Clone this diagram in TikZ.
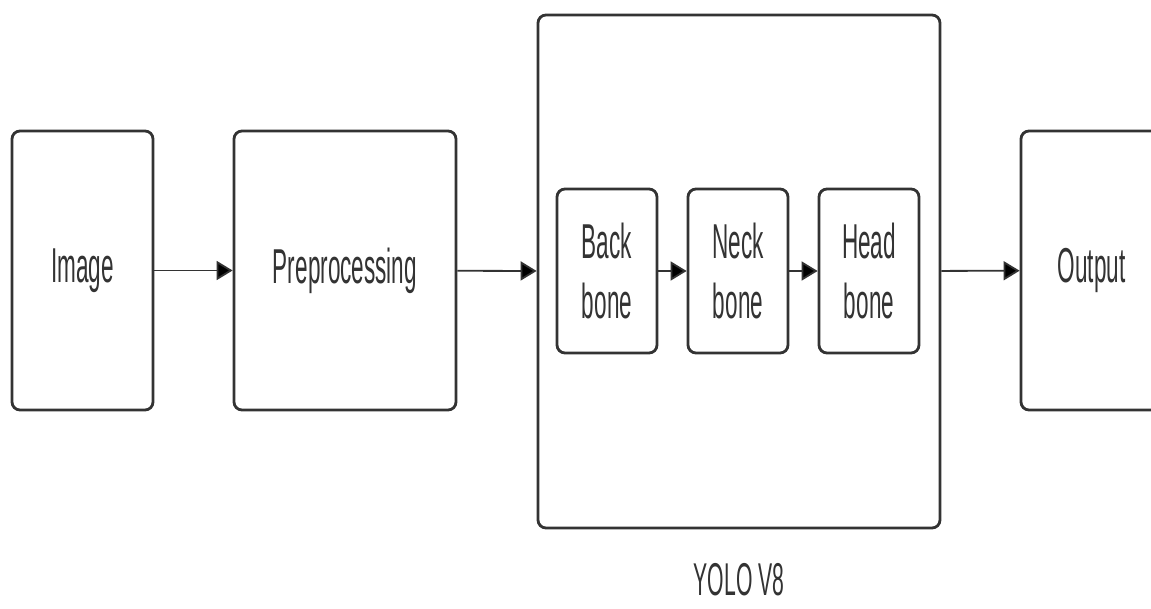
\documentclass[tikz,border=0pt]{standalone}
\usepackage{fontspec}
\setmainfont{Liberation Sans}
\usepackage{graphicx}
\usetikzlibrary{arrows.meta}
\definecolor{ink}{HTML}{333333}
\newcommand{\squeeze}[1]{\scalebox{0.46}[1]{#1}}
\begin{document}
\begin{tikzpicture}[x=0.5pt,y=-0.5pt,
    box/.style={shape=rectangle,draw=ink,line width=1.4pt,rounded corners=4pt,text=ink,font=\fontsize{24.5}{30}\selectfont,align=center,inner sep=0pt},
    arr/.style={draw=ink,line width=0.9pt,-{Triangle[length=8pt,width=9.5pt]}}]
    \useasboundingbox[fill=white] (0,0) rectangle (1151,609);
    \node[box,minimum width=70.5pt,minimum height=139.5pt] (Img) at (82.5,270.5) {\squeeze{Image}};
    \node[box,minimum width=111pt,minimum height=139.5pt] (Pre) at (345,270.5) {\squeeze{Preprocessing}};
    \node[box,minimum width=201pt,minimum height=256.5pt] (Yolo) at (739,271.5) {};
    \node[box,minimum width=50pt,minimum height=82pt] (Back) at (607,271) {\squeeze{Back}\\\squeeze{bone}};
    \node[box,minimum width=50pt,minimum height=82pt] (Neck) at (738,271) {\squeeze{Neck}\\\squeeze{bone}};
    \node[box,minimum width=50pt,minimum height=82pt] (Head) at (869,271) {\squeeze{Head}\\\squeeze{bone}};
    \node[box,minimum width=70.5pt,minimum height=139.5pt] (Out) at (1091.5,270.5) {\squeeze{Output}};
    \node[text=ink,font=\fontsize{23}{28}\selectfont,inner sep=0pt] (Lbl) at (739,580) {\squeeze{YOLO V8}};
    \path [arr] (Img) edge (Pre);
    \path [arr] (Pre) edge (Yolo);
    \path [arr] (Back) edge (Neck);
    \path [arr] (Neck) edge (Head);
    \path [arr] (Yolo) edge (Out);
\end{tikzpicture}
\end{document}
